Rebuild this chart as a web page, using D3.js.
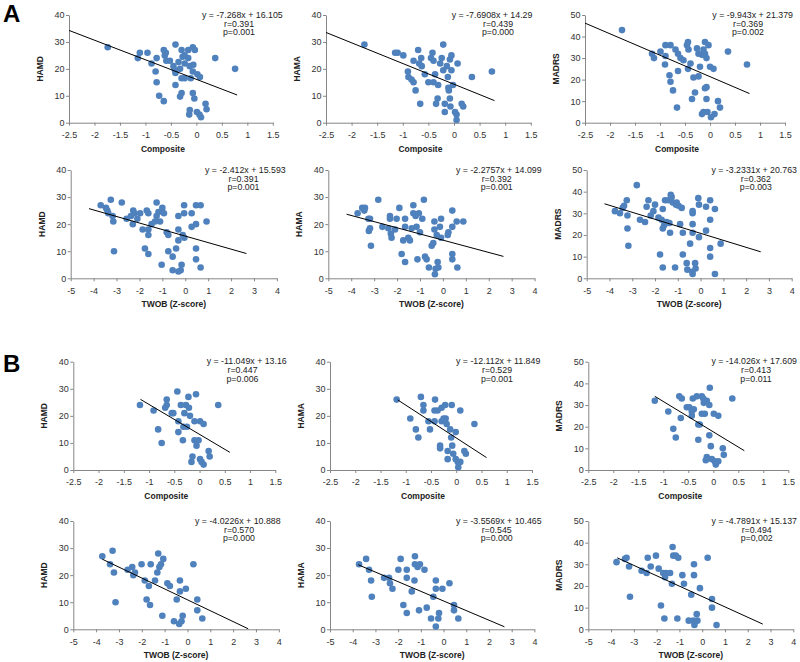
<!DOCTYPE html>
<html><head><meta charset="utf-8">
<script src="https://cdn.jsdelivr.net/npm/d3@7"></script>
<style>
body{margin:0;background:#fff;}
svg{display:block;}
</style></head>
<body>
<svg id="chart" width="800" height="662"></svg>
<script>
// ---------------- DATA ----------------
const compTicks = [-2.5,-2,-1.5,-1,-0.5,0,0.5,1,1.5];
const twobTicks = [-5,-4,-3,-2,-1,0,1,2,3,4];
const ticks40 = [0,10,20,30,40];
const ticks50 = [0,10,20,30,40,50];
const scaleNames = ["HAMD","HAMA","MADRS"];

// Panel A: Composite
const aCompHAMD = [[-1.74,28],[-1.11,26],[-0.96,26],[-1.15,24],[-0.88,22],[-0.78,24],[-0.80,19],[-0.78,15],[-0.73,10],[-0.64,8],[-0.64,27],[-0.62,25],[-0.59,23],[-0.60,26],[-0.45,21],[-0.42,19.5],[-0.41,18.5],[-0.41,29],[-0.41,14],[-0.32,20],[-0.29,16.5],[-0.29,27],[-0.27,24.5],[-0.23,22],[-0.23,16.5],[-0.32,9.7],[-0.29,11],[-0.16,27],[-0.16,24],[-0.13,21],[-0.11,16.5],[-0.13,4.7],[-0.14,3],[-0.07,11],[-0.04,9],[-0.07,28],[-0.03,27],[-0.06,21.5],[-0.07,19],[0.02,18],[0.07,17],[0.01,4],[0.06,3],[0.09,2],[0.18,7],[0.20,5],[0.37,24],[0.76,20],[-0.23,25],[-0.35,22.5],[-0.52,23]];
const aCompHAMA = [[-1.75,29],[-1.15,26],[-1.10,26],[-0.99,25],[-0.90,19],[-0.89,17],[-0.83,16],[-0.79,15],[-0.79,23],[-0.75,12],[-0.70,27],[-0.68,22],[-0.66,7],[-0.64,24],[-0.63,21],[-0.57,18],[-0.50,15],[-0.45,24],[-0.42,26],[-0.40,23],[-0.40,15],[-0.37,18],[-0.35,7],[-0.32,9],[-0.31,14],[-0.27,22],[-0.24,24],[-0.21,29],[-0.21,19.5],[-0.18,4],[-0.18,7],[-0.14,21],[-0.12,17],[-0.11,13],[-0.10,12],[-0.08,9],[-0.07,6],[-0.05,25],[-0.05,19.5],[-0.02,14],[0.02,4],[0.05,3],[0.05,1],[0.07,22],[0.15,7],[0.18,6],[0.35,17],[0.74,19],[-0.08,23.5]];
const aCompMADRS = [[-1.76,43],[-1.16,32],[-1.12,30],[-0.89,36],[-0.79,36],[-0.99,33],[-0.89,31],[-0.90,27],[-0.81,22],[-0.79,19],[-0.74,15],[-0.69,34],[-0.64,32],[-0.64,24],[-0.66,7],[-0.59,30],[-0.53,29],[-0.46,36],[-0.44,37.5],[-0.43,34],[-0.44,25],[-0.39,27.5],[-0.36,11],[-0.33,21],[-0.30,14],[-0.26,34.5],[-0.23,32],[-0.23,21.5],[-0.20,26],[-0.16,31.5],[-0.13,34],[-0.16,4],[-0.13,5],[-0.10,37.5],[-0.10,32],[-0.10,16],[-0.07,11],[-0.07,16.5],[-0.05,5],[-0.03,36],[0.00,26],[0.02,2.5],[0.07,25],[0.09,4],[0.16,10],[0.20,7],[0.36,33],[0.74,27],[-0.07,30]];
// Panel A: TWOB
const aTwobHAMD = [[-3.69,27],[-3.46,26],[-3.40,25],[-3.36,24],[-3.25,29],[-3.17,23],[-3.14,21],[-3.11,10],[-2.77,28],[-2.56,22],[-2.37,23],[-2.27,25],[-2.29,20],[-2.22,24],[-2.09,22],[-1.97,24],[-1.86,18],[-1.76,11],[-1.68,25],[-1.61,24],[-1.61,18],[-1.61,16],[-1.61,9],[-1.47,20],[-1.32,21],[-1.25,28],[-1.25,23],[-1.17,24.5],[-1.10,21],[-1.00,26],[-1.03,5],[-0.93,24],[-0.81,17],[-0.74,16],[-0.74,10],[-0.55,8],[-0.55,3],[-0.40,11],[-0.30,23],[-0.30,18],[-0.30,14],[-0.30,2.5],[-0.20,3],[-0.16,5],[-0.11,16],[-0.05,27],[-0.05,24],[-0.04,15],[0.28,24],[0.28,19],[0.47,27],[0.47,20],[0.47,11],[0.47,7],[0.67,27],[0.67,4],[0.93,21]];
const aTwobHAMA = [[-3.72,24],[-3.52,26],[-3.40,26],[-3.43,25],[-3.25,22],[-3.18,22],[-3.23,17.5],[-3.18,18.5],[-3.14,12],[-2.82,29],[-2.64,19],[-2.38,18.5],[-2.31,23],[-2.31,22],[-2.27,16.5],[-2.24,15],[-2.09,18],[-2.02,22],[-1.90,26],[-1.80,9],[-1.73,14],[-1.65,19],[-1.65,22],[-1.65,6],[-1.51,15],[-1.44,14],[-1.36,18.5],[-1.29,27],[-1.29,24],[-1.19,23],[-1.15,19],[-1.11,7],[-1.05,24],[-1.00,17],[-0.90,22],[-0.83,29],[-0.78,8],[-0.71,7],[-0.61,4],[-0.49,12],[-0.42,13],[-0.37,21],[-0.37,18],[-0.35,1.5],[-0.32,3.5],[-0.27,16],[-0.23,6],[-0.20,4],[-0.13,19],[-0.08,22],[-0.08,15],[0.21,16],[0.24,17],[0.41,19],[0.41,25],[0.41,9],[0.41,7],[0.60,21],[0.63,4],[0.89,21]];
const aTwobMADRS = [[-3.76,31],[-3.54,30],[-3.42,32.5],[-3.36,33.5],[-3.24,36],[-3.21,29],[-3.21,23],[-3.17,15],[-2.80,43],[-2.66,27],[-2.44,26],[-2.37,33],[-2.29,36],[-2.19,29],[-2.07,31],[-2.00,34],[-1.85,28],[-1.78,11],[-1.71,27],[-1.66,32],[-1.66,23],[-1.66,5],[-1.60,24.5],[-1.56,36],[-1.49,26],[-1.42,36],[-1.37,25.5],[-1.34,21],[-1.31,38.5],[-1.27,37.5],[-1.22,35],[-1.12,5],[-1.08,34],[-1.05,35],[-0.97,33.5],[-0.90,25],[-0.83,32.5],[-0.78,21],[-0.78,11],[-0.61,7],[-0.58,4],[-0.46,16],[-0.36,3],[-0.35,2],[-0.35,31],[-0.35,30],[-0.35,25],[-0.35,21],[-0.24,7],[-0.22,4.5],[-0.10,37],[-0.07,34],[-0.07,19],[0.24,33],[0.24,22],[0.42,36],[0.42,27],[0.42,14],[0.42,10],[0.63,32],[0.63,2],[0.88,16]];
// Panel B: Composite
const bCompHAMD = [[-1.18,24],[-0.91,22],[-0.82,15],[-0.75,10],[-0.68,23],[-0.65,26],[-0.65,24],[-0.55,21],[-0.52,21],[-0.44,29],[-0.42,18],[-0.42,14],[-0.37,24],[-0.33,11],[-0.32,16],[-0.30,21],[-0.27,24],[-0.25,16],[-0.22,27],[-0.21,23],[-0.19,20],[-0.16,3],[-0.14,5],[-0.10,18],[-0.10,11],[-0.07,28],[-0.06,9],[-0.02,11],[0.01,18],[0.01,4],[0.04,3],[0.08,2],[0.08,17],[0.18,7],[0.20,5],[0.37,24]];
const bCompHAMA = [[-1.18,26],[-0.91,19],[-0.80,15],[-0.75,12],[-0.70,27],[-0.65,24],[-0.65,22],[-0.55,18],[-0.52,15],[-0.42,26],[-0.43,22],[-0.43,18],[-0.37,22],[-0.32,9],[-0.32,8],[-0.29,18],[-0.29,23],[-0.25,19],[-0.22,24],[-0.21,19],[-0.19,17],[-0.17,4],[-0.17,7],[-0.12,15],[-0.10,12],[-0.09,24],[-0.08,9],[-0.06,6],[-0.01,14],[-0.01,4],[0.03,3],[0.04,1],[0.08,22],[0.08,3],[0.16,7],[0.19,6],[0.36,17]];
const bCompMADRS = [[-1.17,32],[-0.90,27],[-0.80,19],[-0.75,15],[-0.68,34],[-0.63,33],[-0.65,24],[-0.53,29],[-0.48,29],[-0.43,27],[-0.41,33],[-0.39,28],[-0.43,25],[-0.33,34],[-0.30,21],[-0.30,14],[-0.27,21],[-0.23,34],[-0.23,26],[-0.20,33],[-0.19,31],[-0.17,26],[-0.13,32],[-0.15,4.5],[-0.13,6],[-0.08,30],[-0.08,16],[-0.07,38],[-0.05,11],[-0.03,5],[0.01,26],[0.03,4],[0.05,2.5],[0.10,25],[0.10,4],[0.19,10],[0.21,7],[0.38,33]];
// Panel B: TWOB
const bTwobHAMD = [[-3.73,27],[-3.39,24],[-3.28,29],[-3.22,21],[-3.15,10],[-2.62,22],[-2.42,23],[-2.37,20],[-2.30,21],[-2.01,24],[-1.87,18],[-1.79,11],[-1.64,9],[-1.69,16],[-1.61,24],[-1.42,18],[-1.32,21],[-1.28,28],[-1.23,23],[-1.16,24],[-1.06,26],[-1.10,5],[-0.88,17],[-0.77,16],[-0.59,3],[-0.47,11],[-0.36,2],[-0.33,18],[-0.33,14],[-0.26,3],[-0.21,5],[-0.07,15],[0.26,24],[0.43,11],[0.43,7],[0.65,4]];
const bTwobHAMA = [[-3.72,24],[-3.41,26],[-3.28,22],[-3.19,18],[-3.16,12],[-2.62,19],[-2.40,19],[-2.36,17],[-2.25,15],[-1.99,22],[-1.89,26],[-1.77,9],[-1.62,19],[-1.62,22],[-1.62,6],[-1.40,14],[-1.28,18],[-1.26,27],[-1.26,24],[-1.14,23],[-1.08,7],[-1.04,24],[-0.84,22],[-0.74,8],[-0.55,4],[-0.45,12],[-0.34,18],[-0.34,15],[-0.34,1],[-0.23,4],[-0.20,6],[-0.05,15],[0.26,17],[0.46,9],[0.46,7],[0.65,4]];
const bTwobMADRS = [[-3.76,31],[-3.39,32.5],[-3.32,33],[-3.21,29],[-3.17,15],[-2.66,27],[-2.44,26],[-2.39,33],[-2.26,29],[-2.03,34],[-1.91,28],[-1.81,11],[-1.71,26],[-1.66,5],[-1.63,24],[-1.59,26],[-1.41,26],[-1.33,21],[-1.30,38],[-1.27,34],[-1.16,34],[-1.09,5],[-1.05,33],[-0.87,25],[-0.80,21],[-0.59,4],[-0.48,16],[-0.39,4],[-0.36,30],[-0.36,25],[-0.34,2],[-0.24,7],[-0.21,4],[-0.10,19],[0.24,33],[0.43,14],[0.43,10],[0.63,2]];

// regression results (slope, intercept, r, p) in panel order
const slopes     = [-7.268,-7.6908,-9.943,-2.412,-2.2757,-3.2331,-11.049,-12.112,-14.026,-4.0226,-3.5569,-4.7891];
const intercepts = [16.105,14.29,21.379,15.593,14.099,20.763,13.16,11.849,17.609,10.888,10.465,15.137];
const eqLabels   = ["y = -7.268x + 16.105","y = -7.6908x + 14.29","y = -9.943x + 21.379",
                    "y = -2.412x + 15.593","y = -2.2757x + 14.099","y = -3.2331x + 20.763",
                    "y = -11.049x + 13.16","y = -12.112x + 11.849","y = -14.026x + 17.609",
                    "y = -4.0226x + 10.888","y = -3.5569x + 10.465","y = -4.7891x + 15.137"];
const rLabels = ["r=0.391","r=0.439","r=0.369","r=0.391","r=0.392","r=0.362","r=0.447","r=0.529","r=0.413","r=0.570","r=0.545","r=0.494"];
const pLabels = ["p=0.001","p=0.000","p=0.002","p=0.001","p=0.001","p=0.003","p=0.006","p=0.001","p=0.011","p=0.000","p=0.000","p=0,002"];
// x-extent of each fitted line
const lineFrom = [-2.5,-2.5,-2.5,-4.2,-4.2,-4.22,-1.17,-1.16,-1.17,-3.73,-3.75,-3.73];
const lineTo   = [0.8,0.79,0.79,2.67,2.64,2.64,0.6,0.6,0.62,2.66,2.68,2.66];

const datasets = [aCompHAMD,aCompHAMA,aCompMADRS,aTwobHAMD,aTwobHAMA,aTwobMADRS,
                  bCompHAMD,bCompHAMA,bCompMADRS,bTwobHAMD,bTwobHAMA,bTwobMADRS];

// ---------------- LAYOUT ----------------
const rowTop    = [15,170,361.7,521];
const rowBottom = [122.7,278.3,470,629.3];
const panelLeft  = [69,326,585, 70.7,328.3,586.7, 73.3,330,588.3, 73.3,330,588.3];
const panelRight = [272.8,530.8,785, 276.9,534.6,791.7, 275.3,532,788.3, 278.8,534.4,793.3];
// equation text: start anchor for columns 1-2, end anchor for column 3
const eqPos = [202,451.7,793, 205,456,797, 206.7,456,797, 195,456,797];
const rpCenter = [239,498,748, 243.5,496.7,755.8, 242.5,497,756, 239,496.7,756.7];

const blue = "#4f81bd";
const axisColor = "#868686";
const font = "'Liberation Sans', Arial, Helvetica, sans-serif";

const svg = d3.select("#chart");
svg.append("rect").attr("width",800).attr("height",662).attr("fill","#fff");

svg.append("text").attr("x",3).attr("y",22).text("A")
   .attr("font-family",font).attr("font-weight","bold").attr("font-size",24).attr("fill","#000");
svg.append("text").attr("x",3).attr("y",372).text("B")
   .attr("font-family",font).attr("font-weight","bold").attr("font-size",24).attr("fill","#000");

datasets.forEach((data, i) => {
  const row = Math.floor(i/3), col = i%3;
  const isComp = (row % 2 === 0);
  const yMax = col === 2 ? 50 : 40;
  const top = rowTop[row], bottom = rowBottom[row];
  const left = panelLeft[i], right = panelRight[i];
  const xDom = isComp ? [-2.5,1.5] : [-5,4];
  const x = d3.scaleLinear().domain(xDom).range([left,right]);
  const y = d3.scaleLinear().domain([0,yMax]).range([bottom,top]);
  const g = svg.append("g");

  // axes
  const yAxis = d3.axisLeft(y).tickValues(yMax===50?ticks50:ticks40).tickSize(3).tickSizeOuter(0).tickPadding(1.5).tickFormat(d=>String(d));
  const xAxis = d3.axisBottom(x).tickValues(isComp?compTicks:twobTicks).tickSize(3).tickSizeOuter(0).tickPadding(6).tickFormat(d=>String(d));
  const ya = g.append("g").attr("transform",`translate(${left},0)`).call(yAxis);
  const xa = g.append("g").attr("transform",`translate(0,${bottom})`).call(xAxis);
  [ya,xa].forEach(a=>{
    a.select(".domain").attr("stroke",axisColor).attr("stroke-width",1);
    a.selectAll(".tick line").attr("stroke",axisColor);
    a.selectAll("text").attr("font-family",font).attr("font-size",9).attr("fill","#333");
  });

  // points
  g.append("g").selectAll("circle").data(data).join("circle")
    .attr("cx",d=>x(d[0])).attr("cy",d=>y(d[1])).attr("r",3.3).attr("fill",blue);

  // regression line
  const lx = [lineFrom[i], lineTo[i]];
  g.append("line")
    .attr("x1",x(lx[0])).attr("y1",y(slopes[i]*lx[0]+intercepts[i]))
    .attr("x2",x(lx[1])).attr("y2",y(slopes[i]*lx[1]+intercepts[i]))
    .attr("stroke","#000").attr("stroke-width",1);

  // labels
  const tFont = (s)=>s.attr("font-family",font).attr("font-size",8.8).attr("fill","#222");
  tFont(g.append("text").attr("x",eqPos[i]).attr("y",top+2.7)
    .attr("text-anchor", col===2 ? "end" : "start").text(eqLabels[i]));
  tFont(g.append("text").attr("x",rpCenter[i]).attr("y",top+11.5).attr("text-anchor","middle").text(rLabels[i]));
  tFont(g.append("text").attr("x",rpCenter[i]).attr("y",top+20.3).attr("text-anchor","middle").text(pLabels[i]));

  // axis titles
  const cx = (left+right)/2 + (isComp ? -8 : 0);
  g.append("text").attr("x",cx).attr("y",bottom+29).attr("text-anchor","middle")
    .attr("font-family",font).attr("font-weight","bold").attr("font-size",8.5).attr("fill","#222")
    .text(isComp ? "Composite" : "TWOB (Z-score)");
  const ty = (top+bottom)/2;
  g.append("text").attr("transform",`translate(${left-29},${ty}) rotate(-90)`)
    .attr("text-anchor","middle").attr("dominant-baseline","central")
    .attr("font-family",font).attr("font-weight","bold").attr("font-size",8.5).attr("fill","#222")
    .text(scaleNames[col]);
});
</script>
</body></html>
